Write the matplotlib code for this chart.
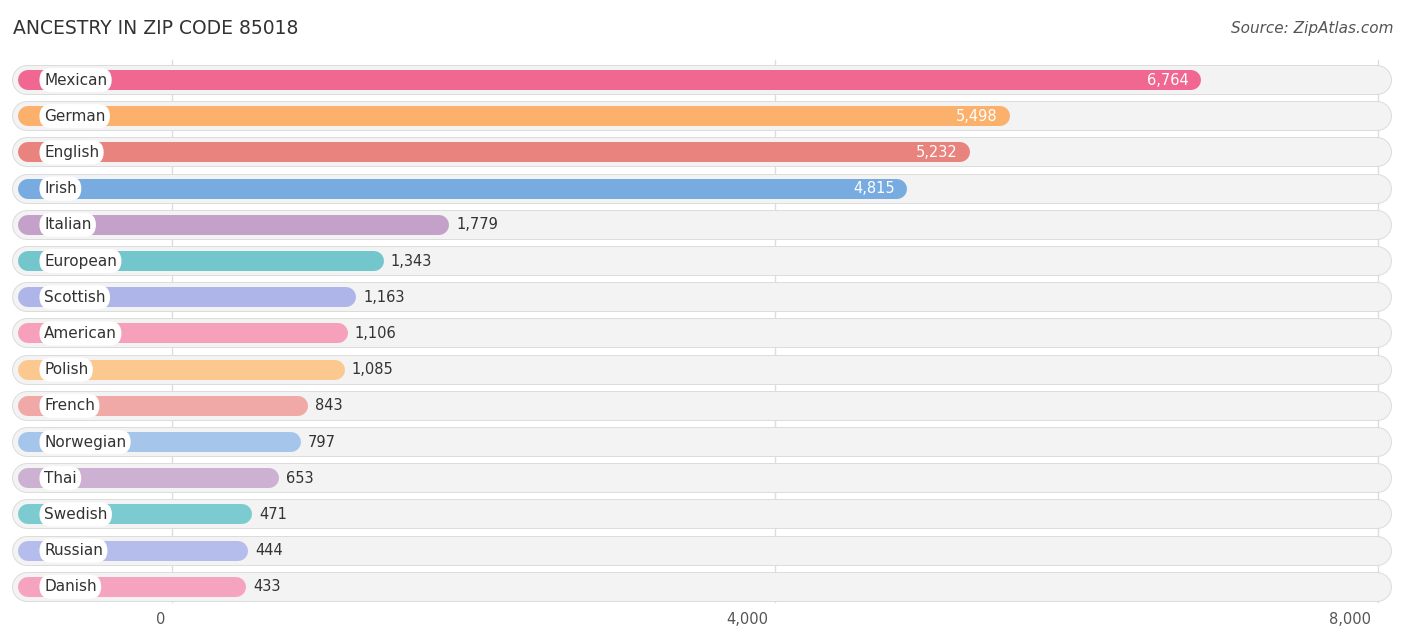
import matplotlib
matplotlib.use("Agg")
import matplotlib.pyplot as plt

categories = ["Mexican","German","English","Irish","Italian","European","Scottish","American",
              "Polish","French","Norwegian","Thai","Swedish","Russian","Danish"]
values = [6764,5498,5232,4815,1779,1343,1163,1106,1085,843,797,653,471,444,433]
colors = ["#f06892","#fbb06c","#e8837e","#78abe0","#c4a1c9","#72c6cc","#aeb5e8","#f6a0bb",
          "#fbc98f","#f0a9a7","#a5c6ea","#cdb1d2","#7ccbd0","#b4bdeb","#f6a3bf"]
xticks = [0,4000,8000]
xticklabels = ["0","4,000","8,000"]

W,H = 1406,644
fig = plt.figure(figsize=(W/100,H/100),dpi=100)
ax = fig.add_axes([0,0,1,1])
s = 1206/8000.0  # px per unit
x0px = 172
ax.set_xlim(-x0px/s,(W-x0px)/s)
ax.set_ylim(H,0)
ax.axis("off")
px = lambda p: (p-x0px)/s  # pixel -> data
pt = 0.72

for t in xticks:
    ax.plot([t,t],[60,602],color="#dddddd",lw=1,zorder=0)
for t,l in zip(xticks,xticklabels):
    ax.text(t-7/s,620,l,ha="right",va="center",fontsize=10.5,color="#555555")

for i,(c,v,col) in enumerate(zip(categories,values,colors)):
    y = 80+i*36.2
    ax.plot([px(27),px(1377)],[y,y],color="#dcdcdc",lw=30*pt,solid_capstyle="round",zorder=1)
    ax.plot([px(27),px(1377)],[y,y],color="#f3f3f3",lw=28*pt,solid_capstyle="round",zorder=1)
    end = v+60
    ax.plot([px(28),end-10/s],[y,y],color=col,lw=20*pt,solid_capstyle="round",zorder=2)
    ax.text(px(44),y,c,ha="left",va="center",fontsize=11,color="#333333",zorder=4,
            bbox=dict(boxstyle="round,pad=0.3,rounding_size=0.8",fc="white",ec="none"))
    if i < 4:
        ax.text(end-12/s,y,f"{v:,}",ha="right",va="center",fontsize=10.5,color="white",zorder=4)
    else:
        ax.text(end+7/s,y,f"{v:,}",ha="left",va="center",fontsize=10.5,color="#333333",zorder=4)

ax.text(px(13),28,"ANCESTRY IN ZIP CODE 85018",ha="left",va="center",fontsize=13.5,color="#333333")
ax.text(px(1394),28,"Source: ZipAtlas.com",ha="right",va="center",fontsize=11,color="#555555",style="italic")
fig.savefig("out.png",dpi=100)
